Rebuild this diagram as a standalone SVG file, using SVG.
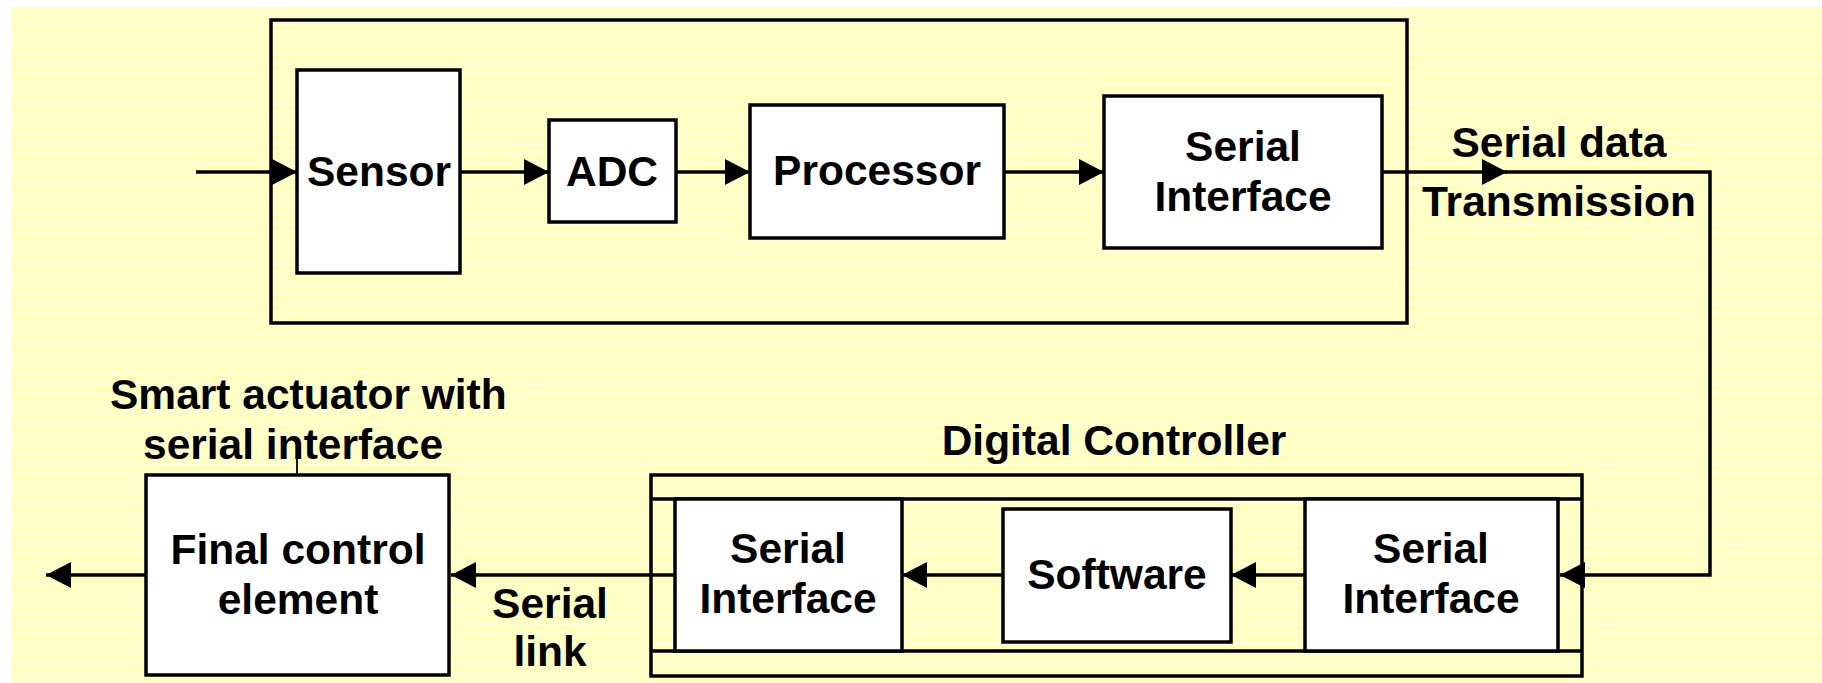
<svg xmlns="http://www.w3.org/2000/svg" width="1822" height="683" viewBox="0 0 1822 683">
<defs>
<pattern id="stripes" x="0" y="7" width="20" height="10" patternUnits="userSpaceOnUse">
<rect width="20" height="10" fill="#FFFFCC"/>
<rect y="0" width="20" height="2" fill="#FFFFB2"/>
</pattern>
<marker id="arr" markerUnits="userSpaceOnUse" markerWidth="25" markerHeight="26" refX="25" refY="13" orient="auto" viewBox="0 0 25 26">
<path d="M0,0 L25,13 L0,26 z" fill="#000"/>
</marker>
<style>
.box{fill:#fff;stroke:#000;stroke-width:3.5}
.frame{fill:none;stroke:#000;stroke-width:3.5}
.conn{fill:none;stroke:#000;stroke-width:3.5}
.lbl{font-family:"Liberation Sans",Arial,sans-serif;font-weight:bold;font-size:42.5px;fill:#000;text-anchor:middle}
.lbls{font-family:"Liberation Sans",Arial,sans-serif;font-weight:bold;font-size:42.5px;fill:#000}
</style>
</defs>
<rect width="1822" height="683" fill="#fff"/>
<rect x="11" y="7" width="1811" height="676" fill="url(#stripes)"/>

<g id="smart-sensor">
<rect class="frame" x="271" y="20" width="1136" height="303"/>
</g>
<g id="sensor">
<rect class="box" x="297" y="70" width="163" height="203"/>
<text class="lbl" x="379" y="186">Sensor</text>
</g>
<g id="adc">
<rect class="box" x="549" y="120" width="127" height="102"/>
<text class="lbl" x="612" y="186">ADC</text>
</g>
<g id="processor">
<rect class="box" x="750" y="105" width="254" height="133"/>
<text class="lbl" x="877" y="185">Processor</text>
</g>
<g id="serial-interface-top">
<rect class="box" x="1104" y="96" width="278" height="152"/>
<text class="lbl" x="1243" y="161">Serial</text>
<text class="lbl" x="1243" y="211">Interface</text>
</g>
<g id="serial-data-label">
<text class="lbl" x="1559" y="157">Serial data</text>
<text class="lbl" x="1559" y="216">Transmission</text>
</g>

<g id="digital-controller">
<text class="lbl" x="1114" y="455">Digital Controller</text>
<rect class="frame" x="651" y="475" width="931" height="201"/>
<line class="conn" x1="651" y1="499" x2="1582" y2="499"/>
<line class="conn" x1="651" y1="651" x2="1582" y2="651"/>
</g>
<g id="serial-interface-left">
<rect class="box" x="675" y="499" width="227" height="152"/>
<text class="lbl" x="788" y="563">Serial</text>
<text class="lbl" x="788" y="613">Interface</text>
</g>
<g id="software">
<rect class="box" x="1003" y="509" width="228" height="133"/>
<text class="lbl" x="1117" y="589">Software</text>
</g>
<g id="serial-interface-right">
<rect class="box" x="1305" y="499" width="253" height="152"/>
<text class="lbl" x="1431" y="563">Serial</text>
<text class="lbl" x="1431" y="613">Interface</text>
</g>

<g id="final-control-element">
<text class="lbls" x="110" y="409">Smart actuator with</text>
<text class="lbls" x="143" y="459">serial interface</text>
<line x1="297" y1="459" x2="297" y2="475" stroke="#000" stroke-width="1.8"/>
<rect class="box" x="146" y="475" width="303" height="200"/>
<text class="lbl" x="298" y="564">Final control</text>
<text class="lbl" x="298" y="614">element</text>
</g>
<g id="serial-link-label">
<text class="lbl" x="550" y="618">Serial</text>
<text class="lbl" x="550" y="666">link</text>
</g>

<g id="connectors">
<line class="conn" x1="196" y1="172" x2="297" y2="172" marker-end="url(#arr)"/>
<line class="conn" x1="460" y1="172" x2="549" y2="172" marker-end="url(#arr)"/>
<line class="conn" x1="676" y1="172" x2="750" y2="172" marker-end="url(#arr)"/>
<line class="conn" x1="1004" y1="172" x2="1104" y2="172" marker-end="url(#arr)"/>
<line class="conn" x1="1382" y1="172" x2="1507" y2="172" marker-end="url(#arr)"/>
<path class="conn" d="M1505,172 H1710 V575 H1560" marker-end="url(#arr)"/>
<line class="conn" x1="1305" y1="575" x2="1231" y2="575" marker-end="url(#arr)"/>
<line class="conn" x1="1003" y1="575" x2="902" y2="575" marker-end="url(#arr)"/>
<line class="conn" x1="675" y1="575" x2="451" y2="575" marker-end="url(#arr)"/>
<line class="conn" x1="146" y1="575" x2="46" y2="575" marker-end="url(#arr)"/>
</g>
</svg>
